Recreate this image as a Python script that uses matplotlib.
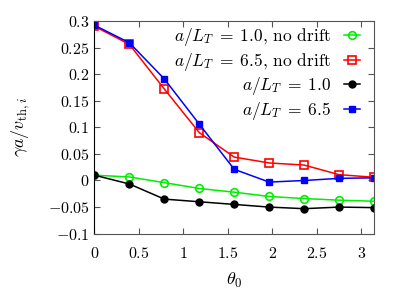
import numpy as np
import matplotlib
matplotlib.use('Agg')
import matplotlib.pyplot as plt
from matplotlib.ticker import FuncFormatter, MultipleLocator

plt.rcParams['mathtext.fontset'] = 'cm'
plt.rcParams['font.family'] = 'serif'
plt.rcParams['font.serif'] = ['cmr10', 'DejaVu Serif']
plt.rcParams['axes.unicode_minus'] = False

theta = np.pi * np.arange(9) / 8
nodrift_10 = [0.010, 0.0066, -0.004, -0.015, -0.022, -0.030, -0.034, -0.037, -0.039]
nodrift_65 = [0.290, 0.256, 0.172, 0.090, 0.044, 0.033, 0.029, 0.011, 0.006]
drift_10 = [0.010, -0.0066, -0.035, -0.040, -0.045, -0.050, -0.053, -0.050, -0.051]
drift_65 = [0.292, 0.259, 0.191, 0.106, 0.021, -0.003, 0.000, 0.004, 0.005]

labels = [r'$a/L_T\;=\;1.0$, no drift', r'$a/L_T\;=\;6.5$, no drift',
          r'$a/L_T\;=\;1.0$', r'$a/L_T\;=\;6.5$']

fig = plt.figure(figsize=(4.07, 2.91), dpi=100)
ax = fig.add_axes([0.232, 0.197, 0.687, 0.731])

lw = 1.1
ax.plot(theta, nodrift_10, color='#00ee00', lw=lw, marker='o', ms=5.5, mfc='none', mew=1.2, label=labels[0])
ax.plot(theta, nodrift_65, color='#ff0000', lw=lw, marker='s', ms=5.5, mfc='none', mew=1.2, label=labels[1])
ax.plot(theta, drift_10, color='black', lw=lw, marker='o', ms=5, label=labels[2])
ax.plot(theta, drift_65, color='#0000ff', lw=lw, marker='s', ms=5, label=labels[3])

ax.set_xlim(0, np.pi)
ax.set_ylim(-0.1, 0.3)
ax.xaxis.set_major_locator(MultipleLocator(0.5))
ax.yaxis.set_major_locator(MultipleLocator(0.05))
ax.xaxis.set_major_formatter(FuncFormatter(lambda v, p: '$%g$' % round(v, 3)))
ax.yaxis.set_major_formatter(FuncFormatter(lambda v, p: '$%g$' % round(v, 3)))
ax.tick_params(direction='in', top=True, right=True, labelsize=11.5, length=4, color='#555555')
ax.tick_params(axis='x', pad=9)
for s in ax.spines.values():
    s.set_color('#555555')
ax.spines['left'].set_color('black')

ax.set_xlabel(r'$\theta_0$', fontsize=13, labelpad=7)
ax.set_ylabel(r'$\gamma a/v_{\mathrm{th},i}$', fontsize=13, labelpad=11)

# markerfirst=False right-aligns the rows, like the gnuplot key
ax.legend(loc='upper right', bbox_to_anchor=(0.95, 0.976), frameon=False, markerfirst=False,
          fontsize=12.5, handlelength=0.95, labelspacing=0.15, borderaxespad=0, borderpad=0,
          handletextpad=0.7)

fig.savefig('out.png', dpi=100)
